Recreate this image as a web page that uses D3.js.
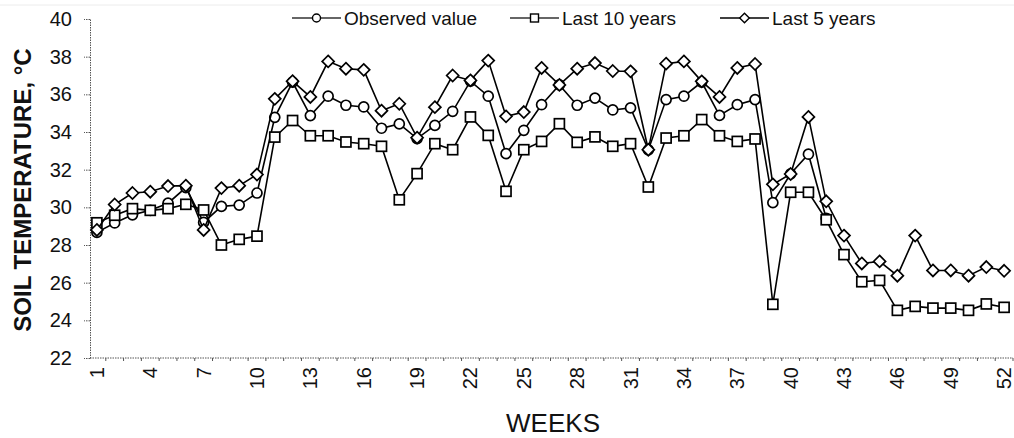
<!DOCTYPE html>
<html>
<head>
<meta charset="utf-8">
<script src="https://cdn.jsdelivr.net/npm/d3@7/dist/d3.min.js"></script>
<style>
  body { margin: 0; background: #fff; }
  svg { font-family: "Liberation Sans", Arial, sans-serif; }
</style>
</head>
<body>
<svg id="chart" width="1014" height="438"></svg>
<script>
// week numbers 1..52 written out
const weeks = [1,2,3,4,5,6,7,8,9,10,11,12,13,14,15,16,17,18,19,20,21,22,23,24,25,26,
  27,28,29,30,31,32,33,34,35,36,37,38,39,40,41,42,43,44,45,46,47,48,49,50,51,52];
const weekTicks = [1,4,7,10,13,16,19,22,25,28,31,34,37,40,43,46,49,52];
const tempTicks = [22,24,26,28,30,32,34,36,38,40];

// observed values stop at week 42
const observed = [28.67,29.17,29.6,29.84,30.22,31.05,29.2,30.05,30.12,30.76,34.78,36.65,
  34.87,35.9,35.42,35.33,34.2,34.43,33.65,34.35,35.1,36.7,35.9,32.85,34.09,35.45,36.5,
  35.42,35.8,35.17,35.28,33.05,35.72,35.9,36.65,34.88,35.45,35.72,30.25,31.78,32.82,29.42];
const last10 = [29.18,29.58,29.93,29.84,29.93,30.16,29.86,28.0,28.3,28.47,33.73,34.61,
  33.8,33.8,33.47,33.38,33.24,30.4,31.79,33.38,33.06,34.8,33.82,30.85,33.06,33.5,34.44,
  33.45,33.74,33.24,33.38,31.08,33.68,33.8,34.66,33.8,33.5,33.63,24.85,30.8,30.8,29.34,
  27.49,26.05,26.12,24.53,24.74,24.65,24.65,24.53,24.87,24.69];
const last5 = [28.8,30.15,30.76,30.83,31.13,31.15,28.8,31.02,31.15,31.74,35.76,36.7,
  35.86,37.75,37.36,37.3,35.13,35.5,33.7,35.32,37.0,36.74,37.79,34.83,35.06,37.4,36.5,
  37.36,37.66,37.24,37.22,33.06,37.63,37.75,36.69,35.86,37.4,37.61,31.22,31.77,34.8,
  30.32,28.5,27.02,27.13,26.37,28.5,26.65,26.65,26.37,26.83,26.63];

const seriesNames = ["Observed value", "Last 10 years", "Last  5 years"];
const shapes = ["circle", "square", "diamond"];

const svg = d3.select("#chart");

const x = d3.scaleBand().domain(weeks).range([88, 1013]).padding(0);
const cx = d => x(d) + x.bandwidth() / 2;
const y = d3.scaleLinear().domain([22, 40]).range([358, 19]);

// faint frame line at top of the scan
svg.append("line")
  .attr("x1", 0).attr("x2", 1014).attr("y1", 5).attr("y2", 5)
  .attr("stroke", "#ececec");

// y axis
const yAxis = svg.append("g")
  .attr("transform", "translate(90,0)")
  .call(d3.axisLeft(y).tickValues(tempTicks).tickSize(6).tickPadding(12).tickSizeOuter(0));
yAxis.select(".domain").attr("stroke", "#555").attr("stroke-dasharray", "1.5,1");
yAxis.selectAll(".tick line").attr("stroke", "#555").attr("stroke-dasharray", "1.5,1");
yAxis.selectAll("text").attr("font-size", 20).attr("fill", "#111")
  .attr("font-family", "Liberation Sans, Arial, sans-serif");

// x axis line and small ticks at band edges
const xg = svg.append("g");
xg.append("line")
  .attr("x1", 90).attr("x2", 1013).attr("y1", y(22)).attr("y2", y(22))
  .attr("stroke", "#555").attr("stroke-dasharray", "1.5,1");
xg.selectAll(".xt")
  .data(weeks)
  .join("line")
  .attr("class", "xt")
  .attr("x1", d => x(d) + x.bandwidth()).attr("x2", d => x(d) + x.bandwidth())
  .attr("y1", y(22)).attr("y2", y(22) + 3)
  .attr("stroke", "#555");

xg.selectAll(".xl")
  .data(weekTicks)
  .join("text")
  .attr("class", "xl")
  .attr("transform", d => `translate(${cx(d)},${y(22) + 9}) rotate(-90)`)
  .attr("text-anchor", "end")
  .attr("dy", "0.35em")
  .attr("font-size", 20)
  .attr("fill", "#111")
  .text(d => d);

// axis titles
svg.append("text")
  .attr("x", 553).attr("y", 432)
  .attr("text-anchor", "middle")
  .attr("font-size", 26)
  .attr("fill", "#111")
  .attr("textLength", 94)
  .text("WEEKS");

svg.append("text")
  .attr("transform", "translate(31,190) rotate(-90)")
  .attr("text-anchor", "middle")
  .attr("font-size", 24)
  .attr("font-weight", "bold")
  .attr("fill", "#111")
  .text("SOIL TEMPERATURE, °C");

// markers
function marker(g, shape, s) {
  if (shape === "circle") {
    return g.append("circle").attr("r", s);
  } else if (shape === "square") {
    return g.append("rect").attr("x", -s).attr("y", -s).attr("width", 2 * s).attr("height", 2 * s);
  }
  const d = s * 1.2;
  return g.append("path").attr("d", `M0,${-d}L${d},0L0,${d}L${-d},0Z`);
}

const line = d3.line().x((d, i) => cx(weeks[i])).y(d => y(d));
const allSeries = [observed, last10, last5];

allSeries.forEach((vals, k) => {
  const g = svg.append("g");
  g.append("path")
    .datum(vals)
    .attr("fill", "none")
    .attr("stroke", "#000")
    .attr("stroke-width", 1.6)
    .attr("d", line);
  vals.forEach((v, i) => {
    const mg = g.append("g").attr("transform", `translate(${cx(weeks[i])},${y(v)})`);
    marker(mg, shapes[k], 5)
      .attr("fill", "#fff")
      .attr("stroke", "#000")
      .attr("stroke-width", 1.7);
  });
});

// legend
const legendX = [292, 510, 720];
const legendY = 18;
seriesNames.forEach((name, k) => {
  const lg = svg.append("g").attr("transform", `translate(${legendX[k]},${legendY})`);
  lg.append("line")
    .attr("x1", 0).attr("x2", 49).attr("y1", 0).attr("y2", 0)
    .attr("stroke", k < 2 ? "#333" : "#000")
    .attr("stroke-width", 1.5);
  const mg = lg.append("g").attr("transform", "translate(24.5,0)");
  marker(mg, shapes[k], 4)
    .attr("fill", "#fff")
    .attr("stroke", "#000")
    .attr("stroke-width", 1.4);
  lg.append("text")
    .attr("x", 52).attr("y", 0)
    .attr("dy", "0.35em")
    .attr("font-size", 19)
    .attr("fill", "#111")
    .text(name);
});
</script>
</body>
</html>
